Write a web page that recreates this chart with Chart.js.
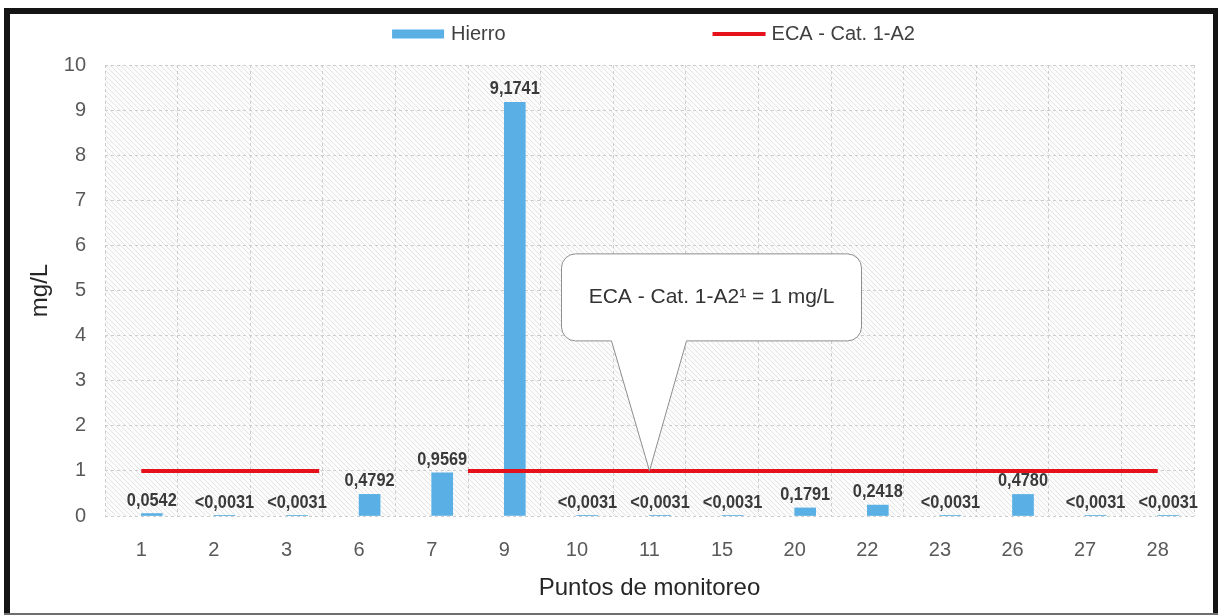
<!DOCTYPE html>
<html>
<head>
<meta charset="utf-8">
<title>Hierro - Puntos de monitoreo</title>
<script src="https://cdn.jsdelivr.net/npm/chart.js@4.4.1/dist/chart.umd.min.js"></script>
<style>
  html, body { margin: 0; padding: 0; background: #ffffff; }
  #wrap { position: relative; width: 1221px; height: 616px; }
  canvas { display: block; }
</style>
</head>
<body>
<div id="wrap"><canvas id="grafico" width="1221" height="616"></canvas></div>
<script>
// Monitoring points and measured iron (mg/L)
const puntos = ['1', '2', '3', '6', '7', '9', '10', '11', '15', '20', '22', '23', '26', '27', '28'];
const hierro = [0.0542, 0.0031, 0.0031, 0.4792, 0.9569, 9.1741, 0.0031, 0.0031, 0.0031, 0.1791, 0.2418, 0.0031, 0.4780, 0.0031, 0.0031];
// true where the result is below the detection limit (shown as "<value")
const bajoLimite = [false, true, true, false, false, false, true, true, true, false, false, true, false, true, true];

// Water quality standard (ECA - Cat. 1-A2) and the stretches where it is drawn,
// in category-index units along the x axis
const ecaValor = 1;
const ecaTramos = [[0, 2.45], [4.5, 14]];
const ecaNota = 'ECA - Cat. 1-A2\u00B9 = 1 mg/L';
const puntoNota = '11';

const yMin = 0, yMax = 10, yPaso = 1;

const FONT = "'Liberation Sans', Arial, Helvetica, sans-serif";
const AZUL = '#5aafe5';
const ROJO = '#e5121c';

// line points for the standard, with a null between stretches to break it
const ecaPuntos = [];
ecaTramos.forEach((t, i) => {
  if (i > 0) ecaPuntos.push({ x: (ecaTramos[i - 1][1] + t[0]) / 2, y: null });
  ecaPuntos.push({ x: t[0], y: ecaValor }, { x: t[1], y: ecaValor });
});

function formato(v, bajo) {
  return (bajo ? '<' : '') + v.toFixed(4).replace('.', ',');
}

// diagonal hatch used as the plot background
function patronRayado(ctx) {
  const c = document.createElement('canvas');
  c.width = 5; c.height = 5;
  const g = c.getContext('2d');
  g.fillStyle = '#fcfcfc';
  g.fillRect(0, 0, 5, 5);
  g.strokeStyle = 'rgba(160,160,160,0.26)';
  g.lineWidth = 1;
  g.beginPath();
  g.moveTo(-1, -1); g.lineTo(6, 6);
  g.moveTo(-1, 4); g.lineTo(1, 6);
  g.moveTo(4, -1); g.lineTo(6, 1);
  g.stroke();
  return ctx.createPattern(c, 'repeat');
}

const fondo = {
  id: 'fondo',
  beforeDraw(chart) {
    const { ctx, chartArea: a } = chart;
    ctx.save();
    ctx.fillStyle = '#ffffff';
    ctx.fillRect(0, 0, chart.width, chart.height);
    ctx.fillStyle = patronRayado(ctx);
    ctx.fillRect(a.left, a.top, a.right - a.left, a.bottom - a.top);
    ctx.restore();
  }
};

const leyenda = {
  id: 'leyenda',
  afterDraw(chart) {
    const { ctx, chartArea: a } = chart;
    const y = 34;
    ctx.save();
    ctx.font = '20px ' + FONT;
    ctx.textBaseline = 'middle';
    const t1 = chart.data.datasets[1].label;
    const t2 = chart.data.datasets[0].label;
    const w1 = 52 + 7 + ctx.measureText(t1).width;
    const w2 = 53 + 6 + ctx.measureText(t2).width;
    const hueco = 207;
    let x = (a.left + a.right) / 2 + 4 - (w1 + hueco + w2) / 2;
    ctx.fillStyle = AZUL;
    ctx.fillRect(x, y - 4.5, 52, 9);
    ctx.fillStyle = '#404040';
    ctx.fillText(t1, x + 59, y);
    x += w1 + hueco;
    ctx.strokeStyle = ROJO;
    ctx.lineWidth = 4;
    ctx.beginPath();
    ctx.moveTo(x, y); ctx.lineTo(x + 53, y);
    ctx.stroke();
    ctx.fillText(t2, x + 59, y);
    ctx.restore();
  }
};

// value labels above each bar, in a condensed bold face
const etiquetas = {
  id: 'etiquetas',
  afterDatasetsDraw(chart) {
    const { ctx } = chart;
    const meta = chart.getDatasetMeta(1);
    const estrecho = 0.86;
    meta.data.forEach((el, i) => {
      ctx.save();
      ctx.font = 'bold 19px ' + FONT;
      ctx.fillStyle = '#3a3a3a';
      ctx.textAlign = 'center';
      ctx.textBaseline = 'alphabetic';
      ctx.translate(el.x, el.y - 8);
      ctx.scale(estrecho, 1);
      ctx.fillText(formato(hierro[i], bajoLimite[i]), 0, 0);
      ctx.restore();
    });
  }
};

const nota = {
  id: 'nota',
  afterDraw(chart) {
    const { ctx, scales } = chart;
    const tx = scales.x.getPixelForValue(puntos.indexOf(puntoNota));
    const ty = scales.y.getPixelForValue(ecaValor);
    const left = tx - 88, right = tx + 212, top = ty - 217, bottom = ty - 130;
    const bl = tx - 38, br = tx + 37, r = 14;
    ctx.save();
    ctx.beginPath();
    ctx.moveTo(left + r, top);
    ctx.lineTo(right - r, top);
    ctx.arcTo(right, top, right, top + r, r);
    ctx.lineTo(right, bottom - r);
    ctx.arcTo(right, bottom, right - r, bottom, r);
    ctx.lineTo(br, bottom);
    ctx.lineTo(tx, ty);
    ctx.lineTo(bl, bottom);
    ctx.lineTo(left + r, bottom);
    ctx.arcTo(left, bottom, left, bottom - r, r);
    ctx.lineTo(left, top + r);
    ctx.arcTo(left, top, left + r, top, r);
    ctx.closePath();
    ctx.fillStyle = '#ffffff';
    ctx.fill();
    ctx.strokeStyle = '#8e8e8e';
    ctx.lineWidth = 1;
    ctx.stroke();
    ctx.font = '21px ' + FONT;
    ctx.fillStyle = '#333333';
    ctx.textAlign = 'center';
    ctx.textBaseline = 'middle';
    ctx.fillText(ecaNota, (left + right) / 2, (top + bottom) / 2);
    ctx.restore();
  }
};

const marco = {
  id: 'marco',
  afterDraw(chart) {
    const { ctx } = chart;
    ctx.save();
    ctx.fillStyle = '#141414';
    ctx.fillRect(4, 8, 1214, 6);      // top
    ctx.fillRect(4, 8, 6, 607);       // left
    ctx.fillRect(1213, 8, 5, 607);    // right
    ctx.fillStyle = '#6e6e6e';
    ctx.fillRect(4, 613, 1214, 2);    // bottom
    ctx.restore();
  }
};

new Chart(document.getElementById('grafico'), {
  type: 'bar',
  data: {
    labels: puntos,
    datasets: [
      {
        type: 'line',
        label: 'ECA - Cat. 1-A2',
        data: ecaPuntos,
        xAxisID: 'xl',
        borderColor: ROJO,
        borderWidth: 4,
        pointRadius: 0,
        fill: false,
        spanGaps: false,
        order: 0
      },
      {
        type: 'bar',
        label: 'Hierro',
        data: hierro,
        backgroundColor: AZUL,
        barThickness: 21,
        order: 1
      }
    ]
  },
  options: {
    responsive: false,
    animation: false,
    devicePixelRatio: 1,
    layout: { padding: { left: 10, right: 27, top: 65, bottom: 0 } },
    plugins: {
      legend: { display: false },
      tooltip: { enabled: false }
    },
    scales: {
      x: {
        type: 'category',
        offset: true,
        grid: { color: '#cdcdcd', lineWidth: 1, drawTicks: false, offset: true },
        border: { display: false, dash: [3, 3] },
        ticks: { font: { family: FONT, size: 20 }, color: '#595959', padding: 22 },
        title: {
          display: true,
          text: 'Puntos de monitoreo',
          font: { family: FONT, size: 24 },
          color: '#262626',
          padding: { top: 0, bottom: 13 }
        },
        afterFit(s) { s.height = 100; }
      },
      // hidden linear axis spanning the same category slots, for the standard line
      xl: {
        type: 'linear',
        position: 'bottom',
        display: true,
        offset: false,
        min: -0.5,
        max: puntos.length - 0.5,
        grid: { display: false, drawTicks: false },
        border: { display: false },
        ticks: { display: false },
        title: { display: false },
        afterFit(s) { s.height = 0; }
      },
      y: {
        min: yMin,
        max: yMax,
        grid: { color: '#cdcdcd', lineWidth: 1, drawTicks: false },
        border: { display: false, dash: [3, 3] },
        ticks: { stepSize: yPaso, font: { family: FONT, size: 20 }, color: '#595959', padding: 19 },
        title: {
          display: true,
          text: 'mg/L',
          font: { family: FONT, size: 24 },
          color: '#262626',
          padding: { top: 16, bottom: 0 }
        },
        afterFit(s) { s.width = 95; }
      }
    }
  },
  plugins: [fondo, etiquetas, nota, leyenda, marco]
});
</script>
</body>
</html>
